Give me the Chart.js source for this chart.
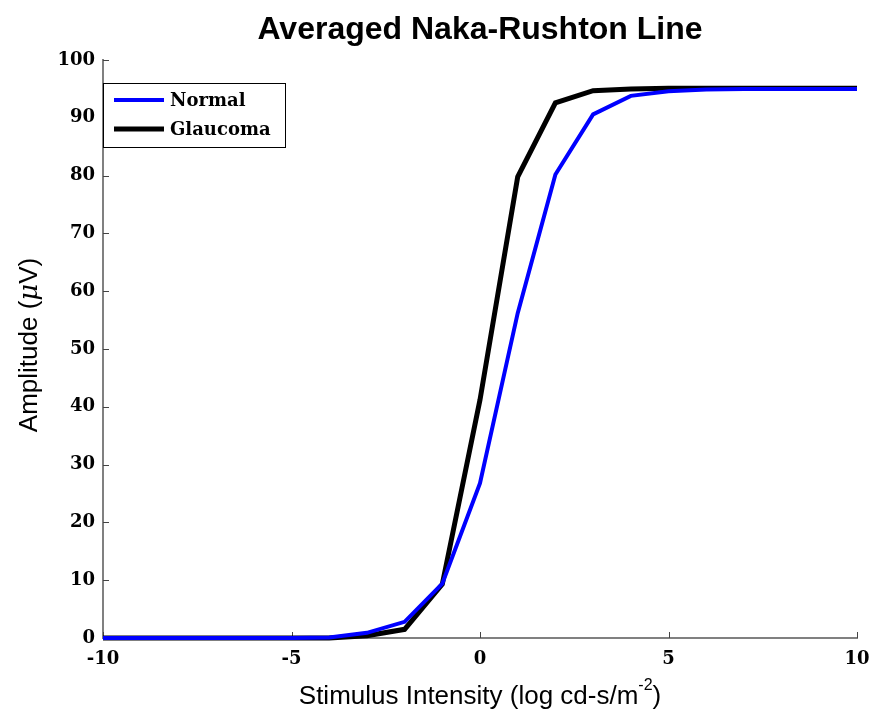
<!DOCTYPE html>
<html>
<head>
<meta charset="utf-8">
<script src="https://cdn.jsdelivr.net/npm/chart.js@4"></script>
<style>
  html, body { margin: 0; padding: 0; background: #fff; }
  #wrap { width: 872px; height: 720px; }
</style>
</head>
<body>
<div id="wrap"><canvas id="nakaChart" width="872" height="720"></canvas></div>
<script>
// stimulus intensity (log units)
const intensity = [-10, -9, -8, -7, -6, -5, -4, -3, -2, -1, 0, 1, 2, 3, 4, 5, 6, 7, 8, 9, 10];
const normalAmp = [0, 0, 0, 0, 0, 0, 0.1, 0.9, 2.8, 9.4, 26.8, 56.2, 80.2, 90.6, 93.8, 94.6, 94.9, 95, 95, 95, 95];
const glaucomaAmp = [0, 0, 0, 0, 0, 0, 0, 0.4, 1.5, 9.3, 41.2, 79.8, 92.6, 94.7, 95, 95.1, 95.1, 95.1, 95.1, 95.1, 95.1];
const xTicks = [-10, -5, 0, 5, 10];
const yTicks = [0, 10, 20, 30, 40, 50, 60, 70, 80, 90, 100];

const chartTitle = 'Averaged Naka-Rushton Line';
const xTitle = 'Stimulus Intensity (log cd-s/m';
const xTitleSup = '-2';
const serifBold = 'bold 18px "DejaVu Serif", serif';
const sans = '"Liberation Sans", Arial, sans-serif';

function toPoints(ys) {
    return intensity.map((x, i) => ({x: x, y: ys[i]}));
}

const lineData = {
    datasets: [{
        label: 'Normal',
        data: toPoints(normalAmp),
        borderColor: 'rgb(0,0,255)',
        borderWidth: 4,
        pointRadius: 0,
        fill: false,
        tension: 0,
        clip: false
    }, {
        label: 'Glaucoma',
        data: toPoints(glaucomaAmp),
        borderColor: 'rgb(0,0,0)',
        borderWidth: 5,
        pointRadius: 0,
        fill: false,
        tension: 0,
        clip: false
    }]
};

// inside ticks, titles and the boxed legend, matlab style
const decorations = {
    id: 'decorations',
    beforeDatasetsDraw(chart) {
        const {ctx, chartArea: a, scales: {x, y}} = chart;
        ctx.save();
        ctx.strokeStyle = '#444';
        ctx.lineWidth = 1;
        yTicks.forEach(v => {
            const py = Math.round(y.getPixelForValue(v)) + 0.5;
            ctx.beginPath();
            ctx.moveTo(a.left, py);
            ctx.lineTo(a.left + 6, py);
            ctx.stroke();
        });
        xTicks.forEach(v => {
            const px = Math.round(x.getPixelForValue(v)) + 0.5;
            ctx.beginPath();
            ctx.moveTo(px, a.bottom);
            ctx.lineTo(px, a.bottom - 6);
            ctx.stroke();
        });
        ctx.restore();
    },
    afterDraw(chart) {
        const {ctx, chartArea: a} = chart;
        const cx = (a.left + a.right) / 2;
        ctx.save();
        ctx.fillStyle = '#000';

        // title
        ctx.font = 'bold 32px ' + sans;
        ctx.textAlign = 'center';
        ctx.textBaseline = 'middle';
        ctx.fillText(chartTitle, cx, 30);

        // x axis title with superscript
        ctx.font = '26px ' + sans;
        const w1 = ctx.measureText(xTitle).width;
        ctx.font = '16px ' + sans;
        const w2 = ctx.measureText(xTitleSup).width;
        ctx.font = '26px ' + sans;
        const w3 = ctx.measureText(')').width;
        let sx = cx - (w1 + w2 + w3) / 2;
        ctx.textAlign = 'left';
        ctx.textBaseline = 'alphabetic';
        ctx.fillText(xTitle, sx, 704);
        ctx.font = '16px ' + sans;
        ctx.fillText(xTitleSup, sx + w1, 690);
        ctx.font = '26px ' + sans;
        ctx.fillText(')', sx + w1 + w2, 704);

        // y axis title, mu in italics
        const cy = (a.top + a.bottom) / 2;
        ctx.translate(37, cy - 4);
        ctx.rotate(-Math.PI / 2);
        const parts = [['Amplitude (', '26px ' + sans], ['\u03bc', 'italic 26px "DejaVu Serif", serif'], ['V)', '26px ' + sans]];
        let total = 0;
        parts.forEach(p => { ctx.font = p[1]; total += ctx.measureText(p[0]).width; });
        let tx = -total / 2;
        parts.forEach(p => {
            ctx.font = p[1];
            ctx.fillText(p[0], tx, 0);
            tx += ctx.measureText(p[0]).width;
        });
        ctx.setTransform(1, 0, 0, 1, 0, 0);

        // legend box
        ctx.fillStyle = '#fff';
        ctx.fillRect(103.5, 83.5, 182, 64);
        ctx.strokeStyle = '#000';
        ctx.lineWidth = 1;
        ctx.strokeRect(103.5, 83.5, 182, 64);
        ctx.font = serifBold;
        ctx.textBaseline = 'middle';
        chart.data.datasets.forEach((ds, i) => {
            const ly = 100 + i * 29;
            ctx.strokeStyle = ds.borderColor;
            ctx.lineWidth = ds.borderWidth;
            ctx.beginPath();
            ctx.moveTo(114, ly);
            ctx.lineTo(164, ly);
            ctx.stroke();
            ctx.fillStyle = '#000';
            ctx.fillText(ds.label, 170, ly + 1);
        });
        ctx.restore();
    }
};

new Chart('nakaChart', {
    type: 'line',
    data: lineData,
    options: {
        responsive: false,
        animation: false,
        layout: {
            padding: {left: 0, right: 15, top: 60, bottom: 0}
        },
        plugins: {
            legend: {display: false},
            title: {display: false},
            tooltip: {enabled: false}
        },
        scales: {
            x: {
                type: 'linear',
                min: -10,
                max: 10,
                afterBuildTicks: s => { s.ticks = xTicks.map(v => ({value: v})); },
                afterFit: s => { s.height = 82; s.paddingLeft = 0; s.paddingRight = 0; },
                grid: {display: false, drawTicks: false},
                border: {display: true, color: '#808080', width: 2},
                ticks: {
                    color: '#000',
                    padding: 11,
                    maxRotation: 0,
                    font: {family: '"DejaVu Serif", serif', size: 18, weight: 'bold'}
                }
            },
            y: {
                min: 0,
                max: 100,
                afterBuildTicks: s => { s.ticks = yTicks.map(v => ({value: v})); },
                afterFit: s => { s.width = 103; s.paddingTop = 0; s.paddingBottom = 0; },
                grid: {display: false, drawTicks: false},
                border: {display: true, color: '#808080', width: 2},
                ticks: {
                    color: '#000',
                    padding: 8,
                    font: {family: '"DejaVu Serif", serif', size: 18, weight: 'bold'}
                }
            }
        }
    },
    plugins: [decorations]
});
</script>
</body>
</html>
